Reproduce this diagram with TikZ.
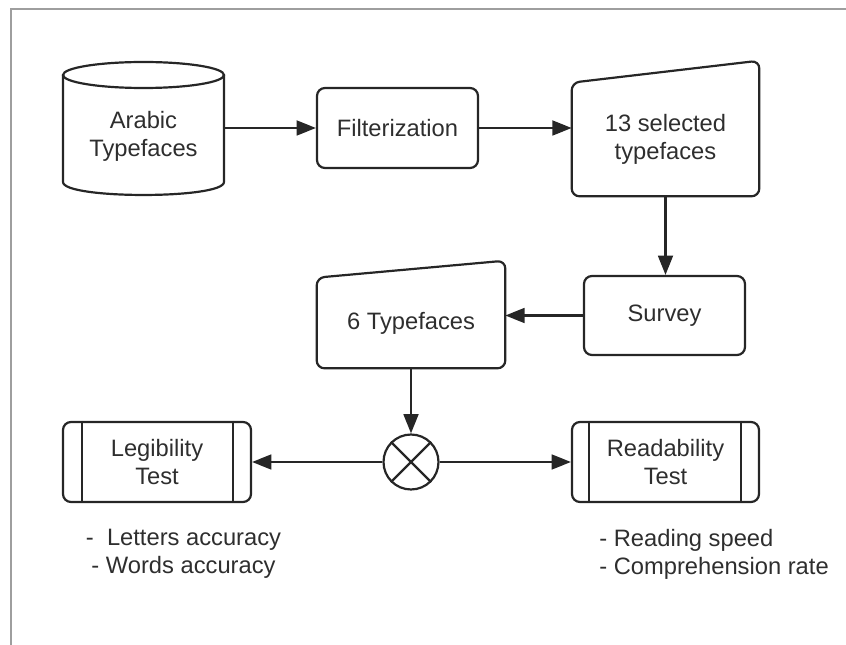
\documentclass[tikz,border=0pt]{standalone}
\usepackage{fontspec}
\setmainfont{Liberation Sans}
\usetikzlibrary{arrows.meta}

\definecolor{ink}{HTML}{262626}
\definecolor{txt}{HTML}{2E2E2E}
\definecolor{frm}{HTML}{9E9E9E}

\begin{document}
\begin{tikzpicture}[x=0.02cm,y=-0.02cm,
  font=\fontsize{13.5}{16}\selectfont,
  box/.style={draw=ink,line width=1.25pt,rounded corners=4.5pt,text=txt,align=center},
  plain/.style={text=txt,align=center,inner sep=0pt},
  arr/.style={draw=ink,line width=1.15pt,-{Triangle[length=11pt,width=8.5pt]}},
  bar/.style={draw=ink,line width=1.25pt}]
%\draw[help lines,step=50] (0,0) grid (846,645);
\useasboundingbox (0,0) rectangle (846,645);

\draw[frm,line width=0.8pt] (10,9) -- (846,9);
\draw[frm,line width=0.8pt] (11,9) -- (11,645);

\node[plain,minimum width=3.22cm] (arab) at (143.5,136) {Arabic\\Typefaces};
\draw[bar] (143.5,75) ellipse [x radius=80.5,y radius=13];
\draw[bar] (63,75) -- (63,182) .. controls (63,199.3) and (224,199.3) .. (224,182) -- (224,75);

\node[box,minimum width=3.22cm,minimum height=1.6cm] (filt) at (397.5,128) {Filterization};

\node[plain,minimum width=3.74cm,minimum height=2.26cm] (sel) at (665.5,139.5) {13 selected\\typefaces};
\draw[box] (sel.south west) -- (sel.north west) -- ([yshift=0.44cm]sel.north east) -- (sel.south east) -- cycle;

\node[box,minimum width=3.22cm,minimum height=1.58cm] (surv) at (664.5,315.5) {Survey};

\node[plain,minimum width=3.76cm,minimum height=1.8cm] (six) at (411,323) {6 Typefaces};
\draw[box] (six.south west) -- (six.north west) -- ([yshift=0.34cm]six.north east) -- (six.south east) -- cycle;

\node[draw=ink,line width=1.25pt,circle,minimum size=1.1cm,inner sep=0pt] (mix) at (411,462) {};
\draw[bar] (mix.north west) -- (mix.south east) (mix.north east) -- (mix.south west);

\node[box,minimum width=3.76cm,minimum height=1.6cm] (leg) at (157,462) {Legibility\\Test};
\draw[bar] ([xshift=0.4cm]leg.north west) -- ([xshift=0.4cm]leg.south west);
\draw[bar] ([xshift=-0.38cm]leg.north east) -- ([xshift=-0.38cm]leg.south east);

\node[box,minimum width=3.74cm,minimum height=1.6cm] (read) at (665.5,462) {Readability\\Test};
\draw[bar] ([xshift=0.36cm]read.north west) -- ([xshift=0.36cm]read.south west);
\draw[bar] ([xshift=-0.38cm]read.north east) -- ([xshift=-0.38cm]read.south east);

\node[plain] (legnote) at (183.5,554) {-\ \ Letters accuracy\\- Words accuracy};
\node[plain,align=left,anchor=west] (readnote) at (599,554) {- Reading speed\\- Comprehension rate};

\draw[arr] (filt.west -| arab.east) -- (filt.west);
\draw[arr] (filt.east) -- (filt.east -| sel.west);
\draw[arr] (sel.south) -- (sel.south |- surv.north);
\draw[arr] (surv.west) -- (surv.west -| six.east);
\draw[arr] (six.south) -- (mix.north);
\draw[arr] (mix.west) -- (leg.east);
\draw[arr] (mix.east) -- (read.west);
\end{tikzpicture}
\end{document}
